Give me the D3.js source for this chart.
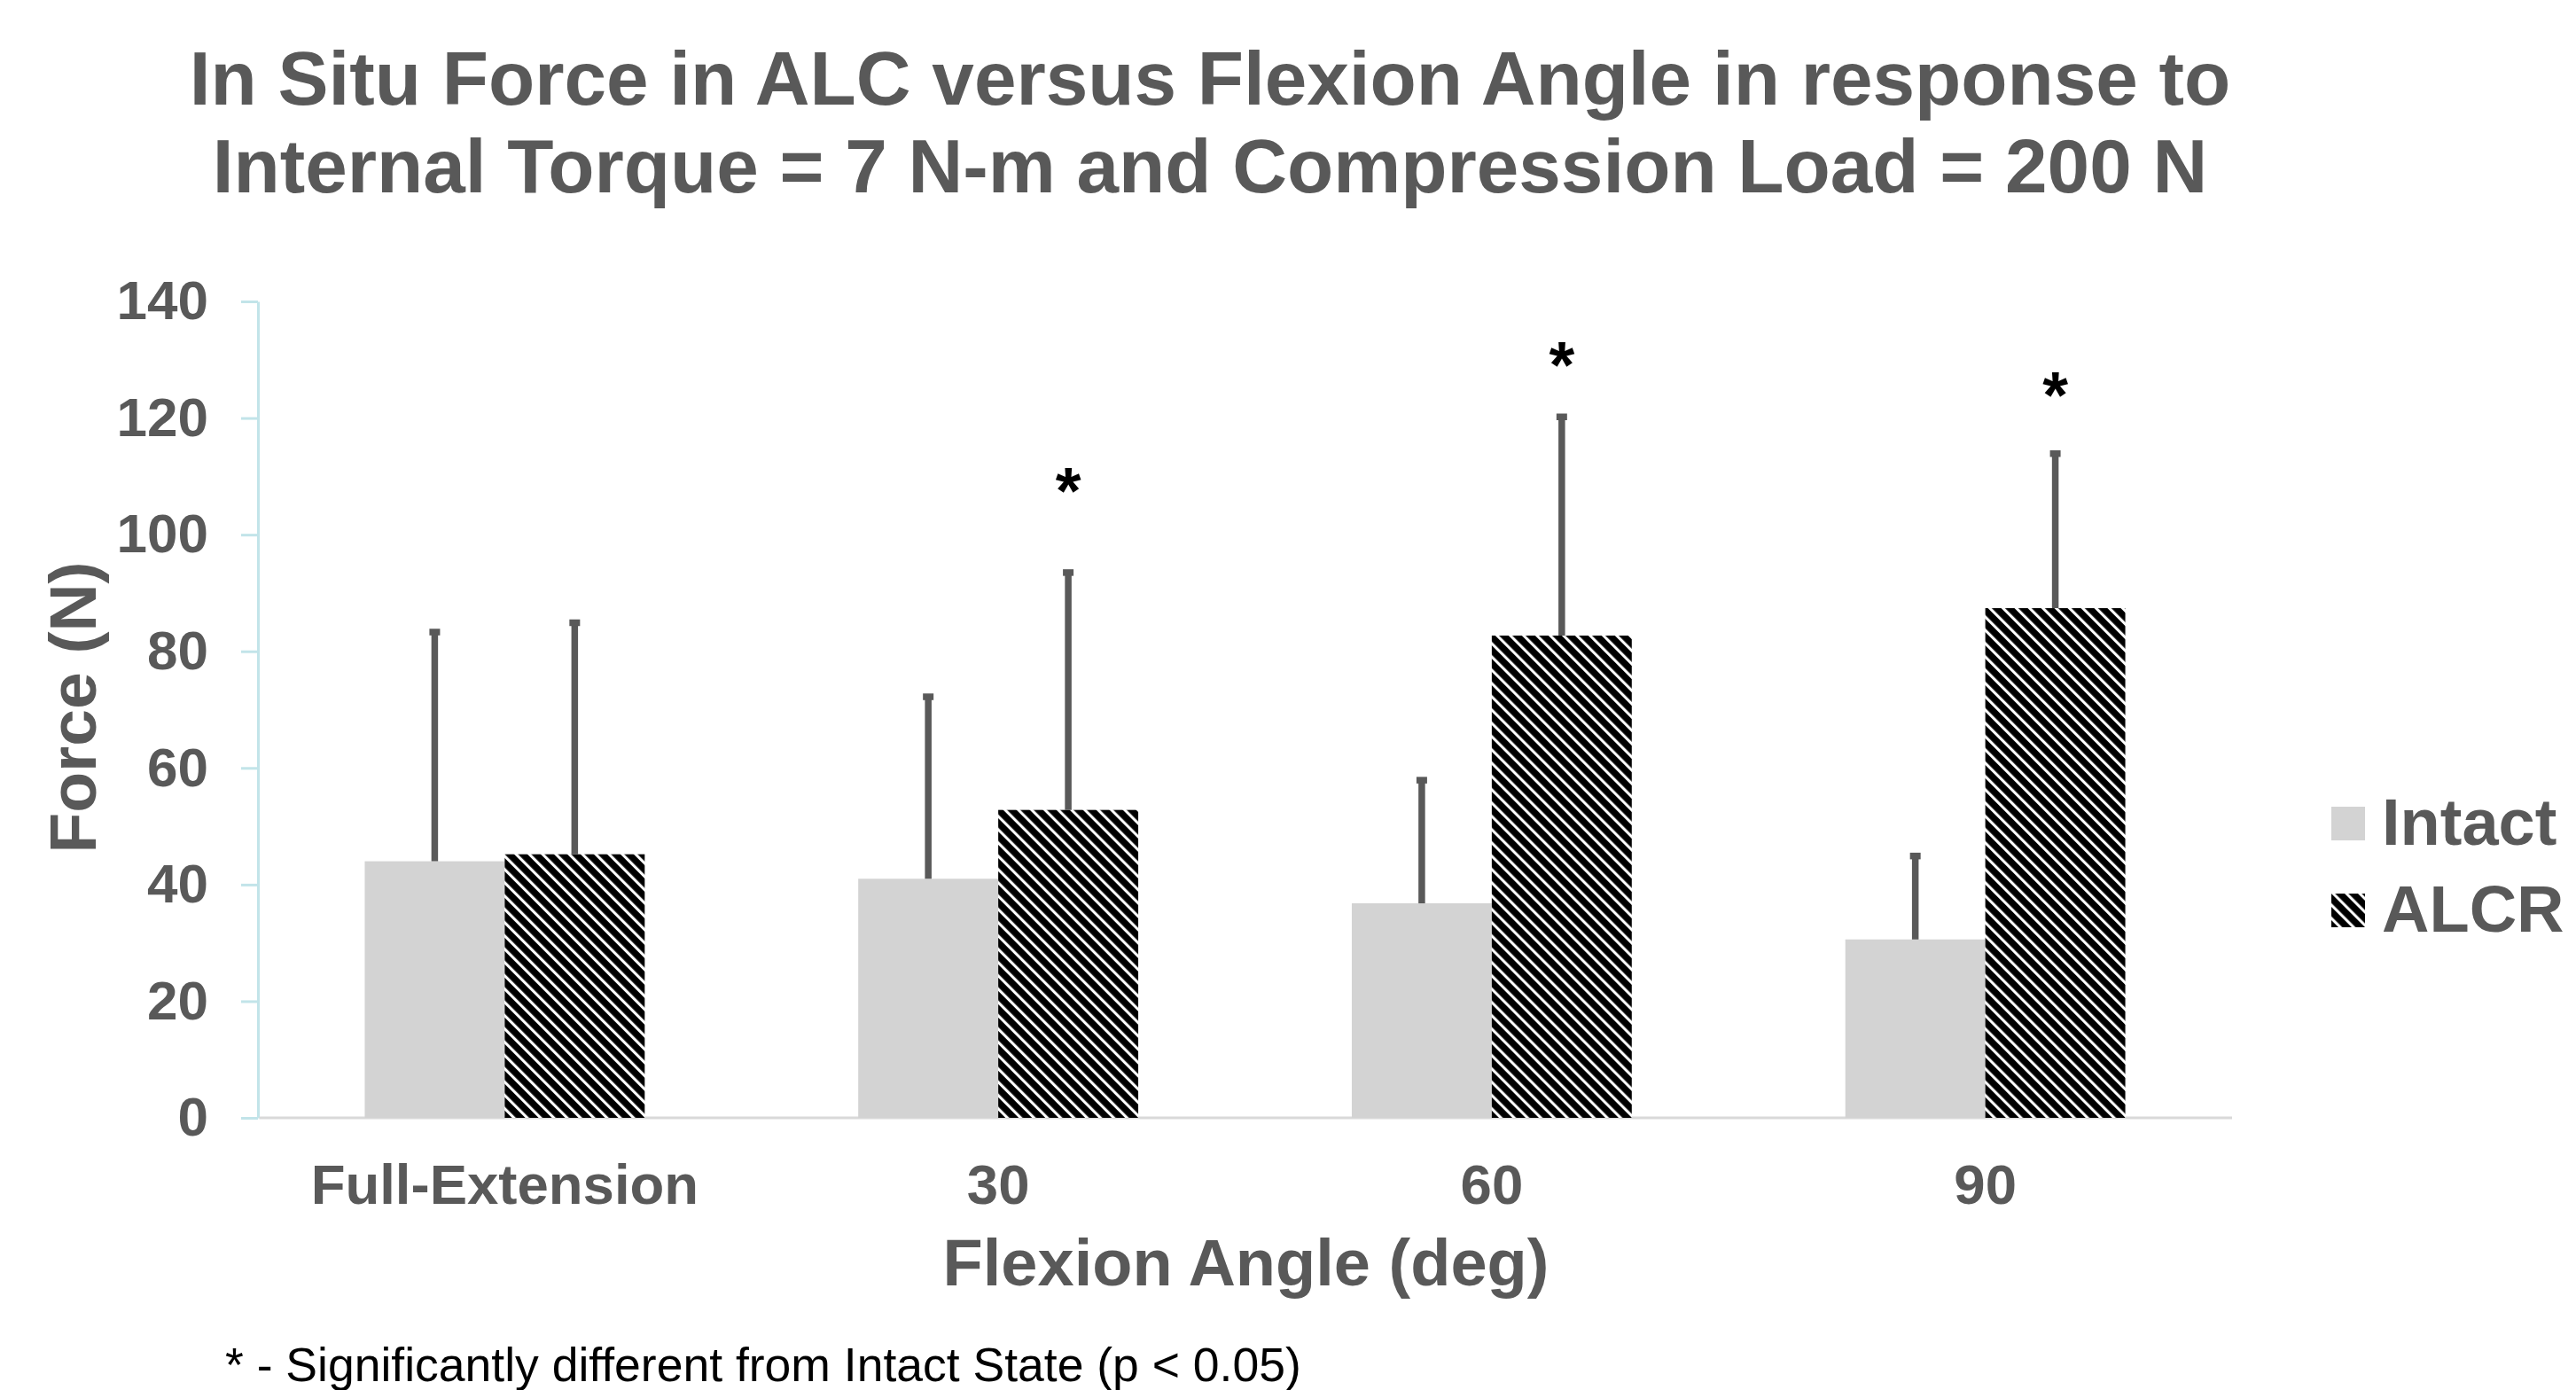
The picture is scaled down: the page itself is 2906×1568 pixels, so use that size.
<!DOCTYPE html>
<html>
<head>
<meta charset="utf-8">
<script src="https://cdn.jsdelivr.net/npm/d3@7"></script>
<style>
  html, body { margin: 0; padding: 0; background: #ffffff; }
  svg { display: block; }
  text { font-family: "Liberation Sans", Arial, Helvetica, sans-serif; }
</style>
</head>
<body>
<script>
// ---------------- data ----------------
const categories = ["Full-Extension", "30", "60", "90"];
const seriesNames = ["Intact", "ALCR"];
const intactMean = [44.0, 41.0, 36.8, 30.6];
const intactSD   = [39.3, 31.2, 21.1, 14.3];
const alcrMean   = [45.2, 52.8, 82.7, 87.4];
const alcrSD     = [39.7, 40.7, 37.5, 26.5];
const significant = [false, true, true, true];     // ALCR vs Intact
const starLevel   = [null, 109.8, 131.4, 126.2];   // annotation height (N)
const yTicks = [0, 20, 40, 60, 80, 100, 120, 140];
const titleLines = [
  "In Situ Force in ALC versus Flexion Angle in response to",
  "Internal Torque = 7 N-m and Compression Load = 200 N"
];
const yTitle = "Force (N)";
const xTitle = "Flexion Angle (deg)";
const footnote = "* - Significantly different from Intact State (p < 0.05)";

// ---------------- layout ----------------
const W = 2906, H = 1568;
const plotLeft = 291, plotRight = 2518, plotTop = 340, plotBottom = 1261;
const textColor = "#595959";

const svg = d3.select("body").append("svg")
  .attr("width", W).attr("height", H);

const defs = svg.append("defs");
const pat = defs.append("pattern")
  .attr("id", "hatch")
  .attr("patternUnits", "userSpaceOnUse")
  .attr("width", 10.6).attr("height", 10.6)
  .attr("patternTransform", "rotate(-45)");
pat.append("rect").attr("width", 10.6).attr("height", 10.6).attr("fill", "#000000");
pat.append("rect").attr("x", 0).attr("width", 3.1).attr("height", 10.6).attr("fill", "#ffffff");

const fills = { "Intact": "#d3d3d3", "ALCR": "url(#hatch)" };

const data = categories.map((c, i) => ({
  cat: c,
  values: [
    { key: "Intact", mean: intactMean[i], sd: intactSD[i] },
    { key: "ALCR", mean: alcrMean[i], sd: alcrSD[i] }
  ],
  sig: significant[i],
  star: starLevel[i]
}));

const x0 = d3.scaleBand().domain(categories).range([plotLeft, plotRight]).paddingInner(0).paddingOuter(0);
const x1 = d3.scaleBand().domain(seriesNames).range([0, x0.bandwidth()]).paddingInner(0).paddingOuter(0.7627);
const y = d3.scaleLinear().domain([0, 140]).range([plotBottom, plotTop]);

// ---------------- title ----------------
const title = svg.append("text")
  .attr("text-anchor", "middle")
  .attr("font-size", 85.5).attr("font-weight", "bold")
  .attr("fill", textColor);
title.selectAll("tspan").data(titleLines).join("tspan")
  .attr("x", 1365)
  .attr("y", (d, i) => 118 + i * 99)
  .text(d => d);

// ---------------- y axis ----------------
const yAxis = d3.axisLeft(y).tickValues(yTicks).tickSize(19).tickSizeOuter(0).tickPadding(37);
const gy = svg.append("g").attr("transform", `translate(${plotLeft},0)`).call(yAxis);
gy.select(".domain").attr("stroke", "#c2e4e9").attr("stroke-width", 3);
gy.selectAll(".tick line").attr("stroke", "#c2e4e9").attr("stroke-width", 3);
gy.selectAll(".tick text")
  .attr("font-size", 62).attr("font-weight", "bold")
  .attr("fill", textColor)
  .attr("font-family", "'Liberation Sans', Arial, sans-serif");

// baseline
svg.append("line")
  .attr("x1", plotLeft + 1.5).attr("x2", plotRight)
  .attr("y1", y(0)).attr("y2", y(0))
  .attr("stroke", "#d9d9d9").attr("stroke-width", 3);

// ---------------- bars ----------------
const groups = svg.append("g").selectAll("g").data(data).join("g")
  .attr("transform", d => `translate(${x0(d.cat)},0)`);

groups.selectAll("rect.bar").data(d => d.values).join("rect")
  .attr("class", "bar")
  .attr("x", d => x1(d.key))
  .attr("width", x1.bandwidth())
  .attr("y", d => y(d.mean))
  .attr("height", d => y(0) - y(d.mean))
  .attr("fill", d => fills[d.key]);

// error bars (upper only)
const eb = groups.selectAll("g.err").data(d => d.values).join("g").attr("class", "err");
eb.append("line")
  .attr("x1", d => x1(d.key) + x1.bandwidth() / 2)
  .attr("x2", d => x1(d.key) + x1.bandwidth() / 2)
  .attr("y1", d => y(d.mean))
  .attr("y2", d => y(d.mean + d.sd))
  .attr("stroke", "#595959").attr("stroke-width", 7.5);
eb.append("line")
  .attr("x1", d => x1(d.key) + x1.bandwidth() / 2 - 6)
  .attr("x2", d => x1(d.key) + x1.bandwidth() / 2 + 6)
  .attr("y1", d => y(d.mean + d.sd))
  .attr("y2", d => y(d.mean + d.sd))
  .attr("stroke", "#595959").attr("stroke-width", 7.5);

// significance stars
groups.filter(d => d.sig).append("text")
  .attr("x", x1("ALCR") + x1.bandwidth() / 2)
  .attr("y", d => y(d.star) + 40)
  .attr("text-anchor", "middle")
  .attr("font-size", 74).attr("font-weight", "bold")
  .attr("fill", "#000000")
  .text("*");

// ---------------- x axis labels ----------------
const xAxis = d3.axisBottom(x0).tickSize(0).tickPadding(0);
const gx = svg.append("g").attr("transform", `translate(0,${plotBottom})`).call(xAxis);
gx.select(".domain").remove();
gx.selectAll(".tick text")
  .attr("y", 97).attr("dy", 0)
  .attr("font-size", 63.5).attr("font-weight", "bold")
  .attr("fill", textColor)
  .attr("font-family", "'Liberation Sans', Arial, sans-serif");

// axis titles
svg.append("text")
  .attr("x", (plotLeft + plotRight) / 2 + 1).attr("y", 1450)
  .attr("text-anchor", "middle")
  .attr("font-size", 74).attr("font-weight", "bold")
  .attr("fill", textColor)
  .text(xTitle);

svg.append("text")
  .attr("transform", "translate(108,798) rotate(-90)")
  .attr("text-anchor", "middle")
  .attr("font-size", 75).attr("font-weight", "bold")
  .attr("fill", textColor)
  .text(yTitle);

// ---------------- legend ----------------
const legend = svg.append("g").selectAll("g").data(seriesNames).join("g")
  .attr("transform", (d, i) => `translate(2630,${910 + i * 98})`);
legend.append("rect")
  .attr("width", 38).attr("height", 38)
  .attr("fill", d => fills[d]);
legend.append("text")
  .attr("x", 57).attr("y", 43)
  .attr("font-size", 74).attr("font-weight", "bold")
  .attr("fill", textColor)
  .text(d => d);

// ---------------- footnote ----------------
svg.append("text")
  .attr("x", 254).attr("y", 1558)
  .attr("font-size", 53.5)
  .attr("fill", "#000000")
  .text(footnote);
</script>
</body>
</html>
